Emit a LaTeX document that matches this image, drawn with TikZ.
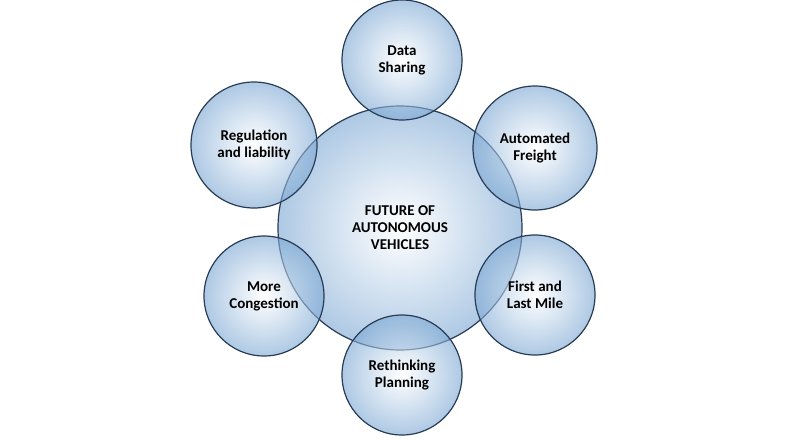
\documentclass[tikz,border=0pt]{standalone}
\usepackage{fontspec}
\setmainfont{Carlito}
\usetikzlibrary{positioning}
\definecolor{rimblue}{RGB}{40,60,85}
\definecolor{edgeblue}{RGB}{120,165,210}
\tikzset{
  bubble/.style={circle, draw=rimblue, line width=1.2pt,
    inner color=white, outer color=edgeblue, fill opacity=0.6,
    text opacity=1, align=center, font=\fontsize{15}{17}\selectfont\bfseries}
}
\begin{document}
\begin{tikzpicture}[x=1pt,y=-1pt]
\useasboundingbox (0,0) rectangle (797,439);
\node[bubble, minimum size=244pt] (fut) at (400,228) {FUTURE OF\\AUTONOMOUS\\VEHICLES};
\node[bubble, minimum size=120pt] (data) at (402,60) {Data\\Sharing};
\node[bubble, minimum size=124pt] (freight) at (535,148) {Automated\\Freight};
\node[bubble, minimum size=120pt] (mile) at (535,295) {First and\\Last Mile};
\node[bubble, minimum size=120pt] (plan) at (402,375) {Rethinking\\Planning};
\node[bubble, minimum size=120pt] (cong) at (264,296) {More\\Congestion};
\node[bubble, minimum size=126pt] (reg) at (254,145) {Regulation\\and liability};
\end{tikzpicture}
\end{document}
